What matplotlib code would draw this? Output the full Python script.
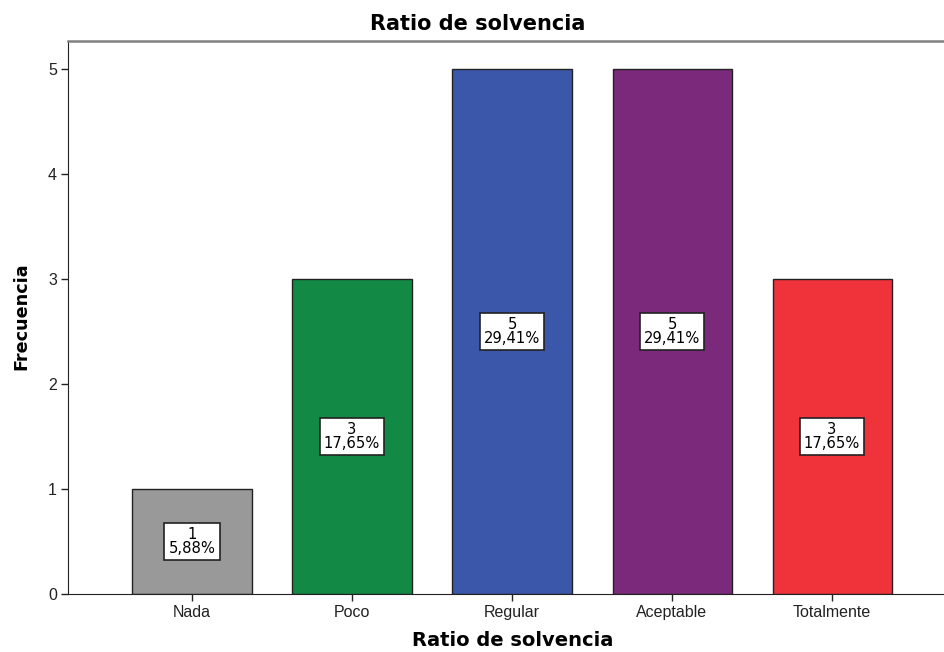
import matplotlib
matplotlib.use("Agg")
import matplotlib.pyplot as plt

categories = ["Nada", "Poco", "Regular", "Aceptable", "Totalmente"]
counts = [1, 3, 5, 5, 3]
percents = ["5,88%", "17,65%", "29,41%", "29,41%", "17,65%"]
colors = ["#999999", "#128a45", "#3b57a9", "#7b297b", "#f0323a"]

plt.rcParams["font.family"] = ["Liberation Sans", "DejaVu Sans"]

fig = plt.figure(figsize=(9.45, 6.52), dpi=100)
ax = fig.add_axes([68 / 945, 58 / 652, 1 - 68 / 945, (594 - 41.5) / 652])

x = list(range(len(categories)))
# soft drop shadow to the right of each bar
ax.bar([i + 0.012 for i in x], counts, width=0.744, color="#c8c8c8",
       edgecolor="none", zorder=1)
ax.bar(x, counts, width=0.744, color=colors, edgecolor="#222222",
       linewidth=1.0, zorder=2)

for i, (c, p) in enumerate(zip(counts, percents)):
    ax.text(i, c / 2, f"{c}\n{p}", ha="center", va="center", fontsize=10.6,
            family="DejaVu Sans", linespacing=0.88, zorder=3,
            bbox=dict(boxstyle="square,pad=0.28", facecolor="white",
                      edgecolor="#222222", linewidth=1.2))

ax.set_xlim(-0.775, 4.706)
ax.set_ylim(0, 5.26)
ax.set_xticks(x)
ax.set_xticklabels(categories, fontsize=11.5)
ax.set_yticks(range(6))
ax.tick_params(axis="both", direction="out", length=5, width=1.0,
               colors="#222222", labelsize=11.5, pad=3)

ax.spines["right"].set_visible(False)
ax.spines["top"].set_color("#808080")
ax.spines["top"].set_linewidth(1.8)
ax.spines["left"].set_color("#222222")
ax.spines["bottom"].set_color("#222222")

bold = dict(family="DejaVu Sans", fontweight="bold")
fig.text(477.5 / 945, 1 - 24.5 / 652, "Ratio de solvencia", ha="center",
         va="center", fontsize=15, **bold)
fig.text(513 / 945, 1 - 640 / 652, "Ratio de solvencia", ha="center",
         va="center", fontsize=14, **bold)
fig.text(21 / 945, 1 - 316 / 652, "Frecuencia", ha="center", va="center",
         rotation=90, fontsize=12.7, **bold)

fig.savefig("out.png", dpi=100)
